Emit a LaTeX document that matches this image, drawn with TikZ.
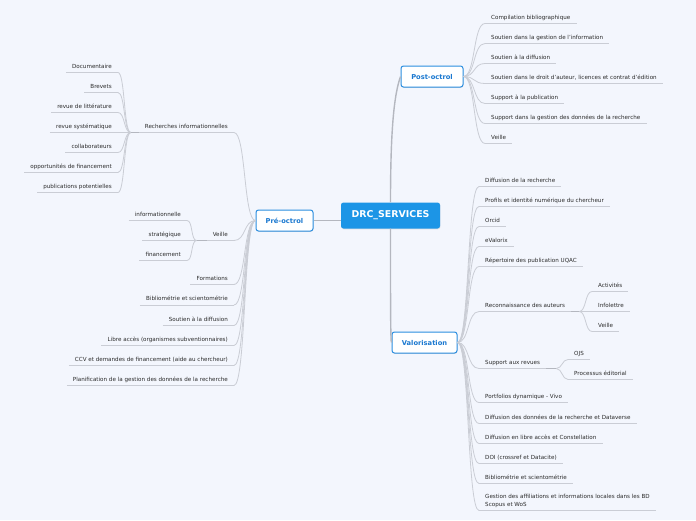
\documentclass[tikz,border=0pt]{standalone}
\usepackage{fontspec}
\setmainfont{DejaVu Sans}
\usetikzlibrary{shadows}
\definecolor{bgc}{HTML}{F3F6FD}
\definecolor{centerblue}{HTML}{1C95E6}
\definecolor{boxblue}{HTML}{2B8EE0}
\definecolor{boxtext}{HTML}{1A78D0}
\definecolor{linegray}{HTML}{CACDD5}
\definecolor{junctgray}{HTML}{B4B7BF}
\definecolor{leaftext}{HTML}{2A2A2A}
\newcommand\leaffont{\fontsize{5.6}{7.5}\selectfont}
\tikzset{
  leaf/.style={font=\leaffont, text=leaftext, text height=4pt, text depth=0pt, inner xsep=6pt, inner ysep=4pt},
  leafR/.style={leaf, anchor=south west},
  leafL/.style={leaf, anchor=south east},
  uline/.style={draw=linegray, line width=0.8pt},
  junct/.style={draw=junctgray, line width=1.6pt},
  conn/.style={draw=linegray, line width=0.8pt},
  mainconn/.style={draw=junctgray, line width=1.4pt},
  mainbox/.style={draw=boxblue, line width=1pt, fill=white, rounded corners=2.5pt, text=boxtext,
    font=\fontsize{6.7}{8}\selectfont\bfseries, minimum height=21pt, inner sep=0pt,
    drop shadow={shadow xshift=0.4pt, shadow yshift=-0.8pt, opacity=0.25}},
  centerbox/.style={fill=centerblue, rounded corners=2.5pt, text=white,
    font=\fontsize{9.4}{11}\selectfont\bfseries, minimum width=99pt, minimum height=26pt, inner sep=0pt,
    drop shadow={shadow xshift=0.4pt, shadow yshift=-0.8pt, opacity=0.2}}
}
\begin{document}
\begin{tikzpicture}[x=1pt,y=-1pt]
\fill[bgc] (0,0) rectangle (696,520);
\useasboundingbox (0,0) rectangle (696,520);

% main nodes
\node[centerbox] (drc) at (390.5,215.5) {DRC\_SERVICES};
\node[mainbox, minimum width=62pt] (post) at (432,76.5) {Post-octrol};
\node[mainbox, minimum width=57pt] (pre) at (284.5,220.5) {Pré-octrol};
\node[mainbox, minimum width=65pt] (valo) at (424.5,342.5) {Valorisation};

% Post-octrol children
\node[leafR] (p1) at (485,23.5) {Compilation bibliographique};
\node[leafR] (p2) at (485,43.5) {Soutien dans la gestion de l'information};
\node[leafR] (p3) at (485,63.5) {Soutien à la diffusion};
\node[leafR] (p4) at (485,83.5) {Soutien dans le droit d'auteur, licences et contrat d'édition};
\node[leafR] (p5) at (485,103.5) {Support à la publication};
\node[leafR] (p6) at (485,123.5) {Support dans la gestion des données de la recherche};
\node[leafR] (p7) at (485,143.5) {Veille};

% Pre-octrol children
\node[leafL] (r1) at (234,132.5) {Recherches informationnelles};
\node[leafL] (r2) at (234,240.5) {Veille};
\node[leafL] (r3) at (234,284.5) {Formations};
\node[leafL] (r4) at (234,305) {Bibliométrie et scientométrie};
\node[leafL] (r5) at (234,325.5) {Soutien à la diffusion};
\node[leafL] (r6) at (234,345.5) {Libre accès (organismes subventionnaires)};
\node[leafL] (r7) at (234,365.5) {CCV et demandes de financement (aide au chercheur)};
\node[leafL] (r8) at (234,385.5) {Planification de la gestion des données de la recherche};

% Recherches informationnelles children
\node[leafL] (a1) at (118,72.5) {Documentaire};
\node[leafL] (a2) at (118,92.5) {Brevets};
\node[leafL] (a3) at (118,112.5) {revue de littérature};
\node[leafL] (a4) at (118,132.5) {revue systématique};
\node[leafL] (a5) at (118,152.5) {collaborateurs};
\node[leafL] (a6) at (118,172.5) {opportunités de financement};
\node[leafL] (a7) at (118,192.5) {publications potentielles};

% Veille children
\node[leafL] (b1) at (187,220.5) {informationnelle};
\node[leafL] (b2) at (187,240.5) {stratégique};
\node[leafL] (b3) at (187,260.5) {financement};

% Valorisation children
\node[leafR] (v1) at (479,186.5) {Diffusion de la recherche};
\node[leafR] (v2) at (479,206.5) {Profils et identité numérique du chercheur};
\node[leafR] (v3) at (479,226.5) {Orcid};
\node[leafR] (v4) at (479,246.5) {eValorix};
\node[leafR] (v5) at (479,266.5) {Répertoire des publication UQAC};
\node[leafR] (v6) at (479,311.5) {Reconnaissance des auteurs};
\node[leafR] (v7) at (479,368.5) {Support aux revues};
\node[leafR] (v8) at (479,402.5) {Portfolios dynamique - Vivo};
\node[leafR] (v9) at (479,423.5) {Diffusion des données de la recherche et Dataverse};
\node[leafR] (v10) at (479,443.5) {Diffusion en libre accès et Constellation};
\node[leafR] (v11) at (479,463.5) {DOI (crossref et Datacite)};
\node[leafR] (v12) at (479,483.5) {Bibliométrie et scientométrie};
\node[leafR, align=left] (v13) at (479,510.5) {Gestion des affiliations et informations locales dans les BD\\Scopus et WoS};

% Reconnaissance children
\node[leafR] (c1) at (592,291.5) {Activités};
\node[leafR] (c2) at (592,311.5) {Infolettre};
\node[leafR] (c3) at (592,331.5) {Veille};

% Support aux revues children
\node[leafR] (d1) at (568,359.5) {OJS};
\node[leafR] (d2) at (568,379.5) {Processus éditorial};

% junction points
\coordinate (r1j) at ([xshift=-8pt]r1.south west);
\coordinate (r2j) at ([xshift=-10pt]r2.south west);
\coordinate (v6j) at ([xshift=8pt]v6.south east);
\coordinate (v7j) at ([xshift=10pt]v7.south east);

% underlines
\foreach \n in {p1,p2,p3,p4,p5,p6,p7,r1,r2,r3,r4,r5,r6,r7,r8,a1,a2,a3,a4,a5,a6,a7,b1,b2,b3,v1,v2,v3,v4,v5,v6,v7,v8,v9,v10,v11,v12,v13,c1,c2,c3,d1,d2}
  \draw[uline] (\n.south west) -- (\n.south east);
\draw[junct] (r1.south west) -- (r1j);
\draw[junct] (r2.south west) -- (r2j);
\draw[junct] (v6.south east) -- (v6j);
\draw[junct] (v7.south east) -- (v7j);

% main connectors
\draw[mainconn] (drc.west |- pre.east) -- (pre.east);
\draw[mainconn] (drc.north) .. controls (390.5,130) and (394,95) .. (post.west);
\draw[mainconn] (drc.south) .. controls (390.5,300) and (390.5,342.5) .. (valo.west);

% child connectors
\foreach \n in {p1,p2,p3,p4,p5,p6,p7}
  \draw[conn] (post.east) .. controls +(12,0) and +(-12,0) .. (\n.south west);
\foreach \n in {r1,r2,r3,r4,r5,r6,r7,r8}
  \draw[conn] (pre.west) .. controls +(-12,0) and +(12,0) .. (\n.south east);
\foreach \n in {a1,a2,a3,a4,a5,a6,a7}
  \draw[conn] (r1j) .. controls +(-7,0) and +(7,0) .. (\n.south east);
\foreach \n in {b1,b2,b3}
  \draw[conn] (r2j) .. controls +(-6,0) and +(6,0) .. (\n.south east);
\foreach \n in {v1,v2,v3,v4,v5,v6,v7,v8,v9,v10,v11,v12,v13}
  \draw[conn] (valo.east) .. controls +(12,0) and +(-12,0) .. (\n.south west);
\foreach \n in {c1,c2,c3}
  \draw[conn] (v6j) .. controls +(7,0) and +(-7,0) .. (\n.south west);
\foreach \n in {d1,d2}
  \draw[conn] (v7j) .. controls +(6,0) and +(-6,0) .. (\n.south west);
\end{tikzpicture}
\end{document}
